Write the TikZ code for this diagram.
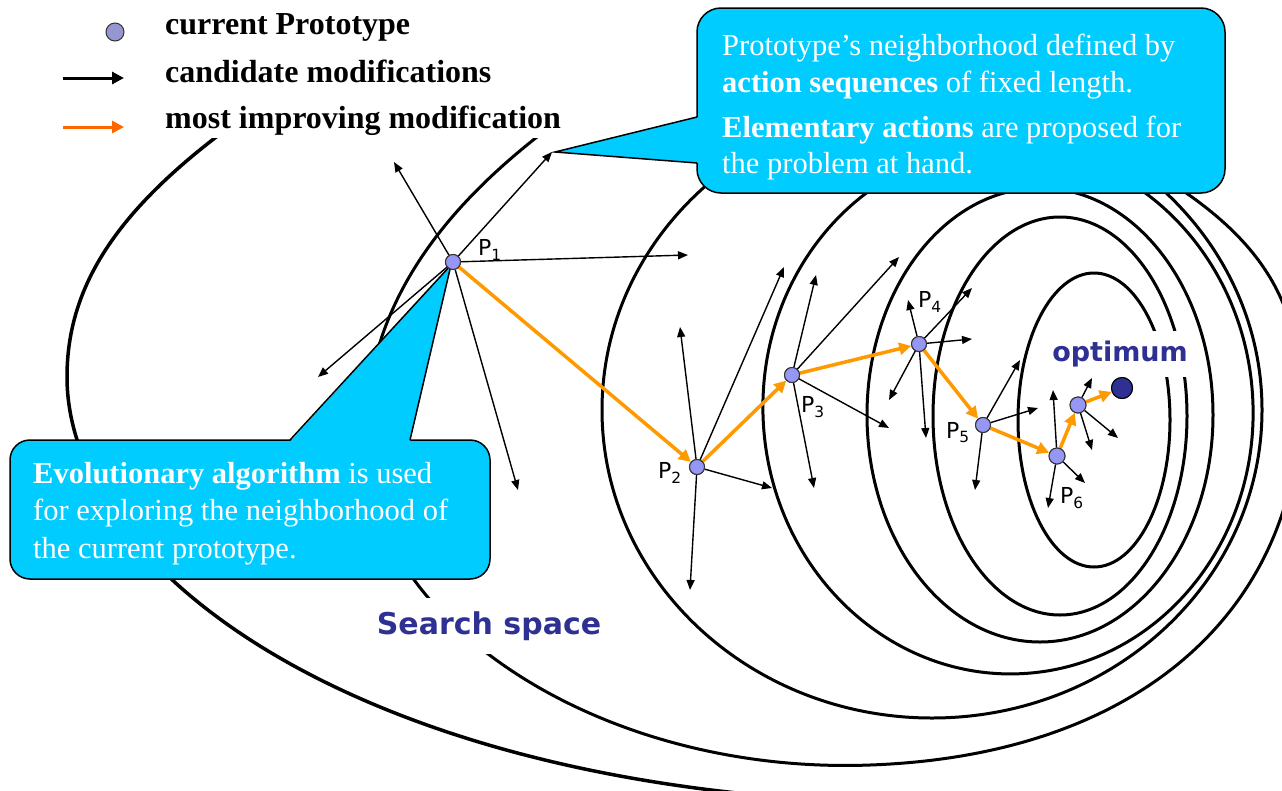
\documentclass[tikz,border=0pt]{standalone}
\usepackage{fontspec}
\setmainfont{Liberation Serif}
\newfontfamily\sansfont{DejaVu Sans}
\usetikzlibrary{arrows.meta}
\definecolor{callcyan}{RGB}{0,204,255}
\definecolor{navyblue}{RGB}{46,49,146}
\definecolor{protofill}{RGB}{150,150,245}
\definecolor{legfill}{RGB}{150,150,210}
\definecolor{pathorange}{RGB}{255,153,0}
\definecolor{legorange}{RGB}{255,102,0}
\tikzset{
 contour/.style={line width=3pt},
 callbox/.style={fill=callcyan, draw=black, line width=1.5pt, rounded corners=24pt},
 tailedge/.style={draw=black, line width=1.5pt, line join=miter},
 calltext/.style={anchor=base west, inner sep=0pt, text=white, font=\fontsize{30.5}{36}\selectfont},
 legtext/.style={anchor=base west, inner sep=0pt, font=\bfseries\fontsize{32}{36}\selectfont},
 proto/.style={circle, draw=black!80, line width=1pt, fill=protofill, minimum size=15pt, inner sep=0pt},
 legdot/.style={circle, draw=black!80, line width=1pt, fill=legfill, minimum size=18pt, inner sep=0pt},
 optdot/.style={circle, draw=black, line width=1pt, fill=navyblue, minimum size=21pt, inner sep=0pt},
 plabel/.style={inner sep=0pt, font=\sansfont\fontsize{22}{22}\selectfont},
 cand/.style={line width=1.4pt, -{Triangle[length=10pt,width=8pt]}},
 best/.style={draw=pathorange, line width=3.5pt, -{Triangle[length=12pt,width=12pt]}},
 legarrow/.style={line width=3pt, -{Triangle[length=12pt,width=12pt]}},
 bluelabel/.style={fill=white, text=navyblue, inner sep=0pt},
}
\begin{document}
\begin{tikzpicture}[x=1pt,y=-1pt]
\useasboundingbox (0,0) rectangle (1282,790);
\fill[white] (0,0) rectangle (1282,790);

% contour lines of the search space
\begin{scope}
\clip (0,0) rectangle (1282,790);
\draw[contour, line width=3.5pt] (330,60) .. controls (150,170) and (67,260) .. (67,377)
   .. controls (67,560) and (330,770) .. (820,800);
\draw[contour] (562,118) .. controls (450,200) and (365,300) .. (365,440)
   .. controls (365,620) and (600,775) .. (870,765)
   .. controls (1150,755) and (1300,600) .. (1300,400)
   .. controls (1300,310) and (1270,240) .. (1150,170);
\draw[contour] (932,410) ellipse [x radius=330pt, y radius=308pt];
\draw[contour, rotate around={4:(1008,410)}] (1008,410) ellipse [x radius=245pt, y radius=264pt];
\draw[contour] (1040,415) ellipse [x radius=173pt, y radius=227pt];
\draw[contour] (1060,416) ellipse [x radius=127pt, y radius=199pt];
\draw[contour] (1094,420) ellipse [x radius=76pt, y radius=147pt];
\end{scope}

% legend background
\fill[white] (150,0) rectangle (576,138);

% labels with white background
\node[bluelabel, minimum width=245pt, minimum height=56pt, font=\sansfont\bfseries\fontsize{30}{30}\selectfont] (ss) at (489,626) {Search space};
\node[bluelabel, minimum width=148pt, minimum height=46pt, font=\sansfont\bfseries\fontsize{27}{27}\selectfont] (optlab) at (1120,354) {optimum};

% top-right callout
\draw[callbox] (697,8) rectangle (1225,193);
\fill[callcyan] (698.5,117) -- (555,152) -- (698.5,163) -- cycle;
\draw[tailedge] (697,117) -- (555,152) -- (697,163);
\node[calltext] (t1) at (722,55) {Prototype’s neighborhood defined by};
\node[calltext] (t2) at (722,92) {\textbf{action sequences} of fixed length.};
\node[calltext] (t3) at (722,137) {\textbf{Elementary actions} are proposed for};
\node[calltext] (t4) at (722,173) {the problem at hand.};

% bottom-left callout
\draw[callbox, rounded corners=20pt] (10,440) rectangle (490,579);
\fill[callcyan] (290,441.5) -- (451,265) -- (410,441.5) -- cycle;
\draw[tailedge] (290,440) -- (451,265) -- (410,440);
\node[calltext] (b1) at (33,483) {\textbf{Evolutionary algorithm} is used};
\node[calltext] (b2) at (33,520) {for exploring the neighborhood of};
\node[calltext] (b3) at (33,558) {the current prototype.};

% prototypes
\node[proto] (p1) at (453,262) {};
\node[proto] (p2) at (697,467) {};
\node[proto] (p3) at (792,375) {};
\node[proto] (p4) at (919,344) {};
\node[proto] (p5) at (983,425) {};
\node[proto, minimum size=16pt] (p6) at (1057,456) {};
\node[proto, minimum size=16pt] (p7) at (1078,405) {};
\node[optdot] (opt) at (1122,388) {};

% candidate tips
\coordinate (c11) at (394,162);
\coordinate (c12) at (552,152);
\coordinate (c13) at (688,255);
\coordinate (c14) at (318,377);
\coordinate (c15) at (518,490);
\coordinate (c21) at (680,327);
\coordinate (c22) at (784,267);
\coordinate (c23) at (772,488);
\coordinate (c24) at (690,590);
\coordinate (c31) at (816,275);
\coordinate (c32) at (899,257);
\coordinate (c33) at (889,428);
\coordinate (c34) at (814,488);
\coordinate (c41) at (908,300);
\coordinate (c42) at (972,288);
\coordinate (c43) at (972,339);
\coordinate (c44) at (889,400);
\coordinate (c45) at (926,438);
\coordinate (c51) at (1020,360);
\coordinate (c52) at (1038,408);
\coordinate (c53) at (975,490);
\coordinate (c61) at (1053,390);
\coordinate (c62) at (1048,508);
\coordinate (c63) at (1085,483);
\coordinate (c71) at (1092,378);
\coordinate (c72) at (1092,450);
\coordinate (c73) at (1118,438);

\foreach \t in {c11,c12,c13,c14,c15} \draw[cand] (p1) -- (\t);
\foreach \t in {c21,c22,c23,c24} \draw[cand] (p2) -- (\t);
\foreach \t in {c31,c32,c33,c34} \draw[cand] (p3) -- (\t);
\foreach \t in {c41,c42,c43,c44,c45} \draw[cand] (p4) -- (\t);
\foreach \t in {c51,c52,c53} \draw[cand] (p5) -- (\t);
\foreach \t in {c61,c62,c63} \draw[cand] (p6) -- (\t);
\foreach \t in {c71,c72,c73} \draw[cand] (p7) -- (\t);

\draw[best] (p1) -- (p2);
\draw[best] (p2) -- (p3);
\draw[best] (p3) -- (p4);
\draw[best] (p4) -- (p5);
\draw[best] (p5) -- (p6);
\draw[best] (p6) -- (p7);
\draw[best] (p7) -- (opt);

% points drawn again on top of the line ends
\node[proto] at (p1) {};
\node[proto] at (p2) {};
\node[proto] at (p3) {};
\node[proto] at (p4) {};
\node[proto] at (p5) {};
\node[proto, minimum size=16pt] at (p6) {};
\node[proto, minimum size=16pt] at (p7) {};
\node[optdot] at (opt) {};

% point labels
\node[plabel] (l1) at (490,250) {P\textsubscript{1}};
\node[plabel] (l2) at (670,473) {P\textsubscript{2}};
\node[plabel] (l3) at (813,407) {P\textsubscript{3}};
\node[plabel] (l4) at (930,302) {P\textsubscript{4}};
\node[plabel] (l5) at (958,433) {P\textsubscript{5}};
\node[plabel] (l6) at (1072,498) {P\textsubscript{6}};

% legend
\node[legdot] (ld) at (115,32) {};
\node[legtext] (lt1) at (165,34) {current Prototype};
\coordinate (la1s) at (63,78);
\coordinate (la1e) at (124,78);
\draw[legarrow] (la1s) -- (la1e);
\node[legtext] (lt2) at (165,82) {candidate modifications};
\coordinate (la2s) at (63,127);
\coordinate (la2e) at (124,127);
\draw[legarrow, draw=legorange, fill=legorange] (la2s) -- (la2e);
\node[legtext] (lt3) at (165,128) {most improving modification};
\end{tikzpicture}
\end{document}
